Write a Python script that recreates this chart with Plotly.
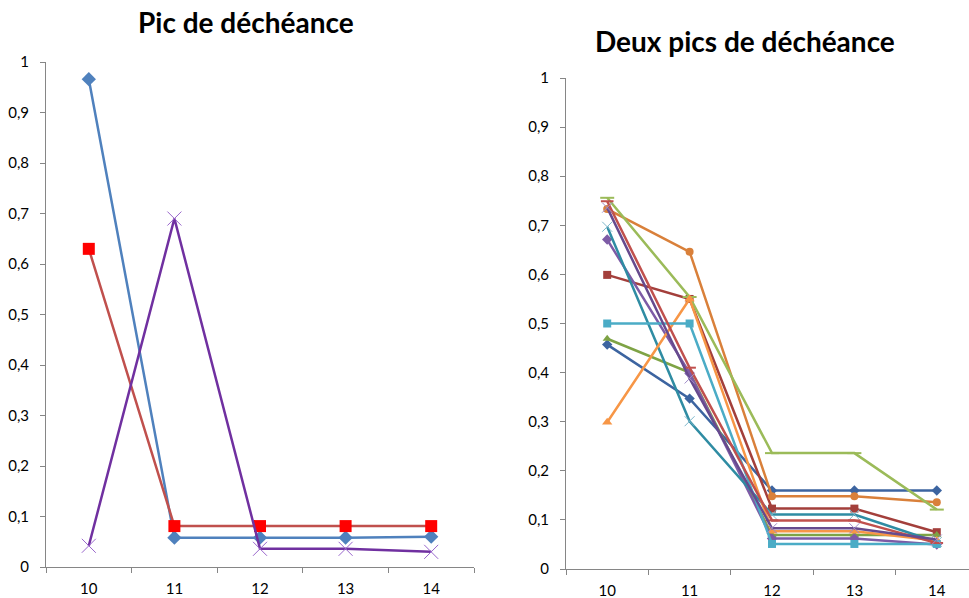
import plotly.graph_objects as go

categories = [10, 11, 12, 13, 14]

# Left chart: "Pic de déchéance"
left_blue = [0.966, 0.058, 0.058, 0.058, 0.060]
left_red = [0.630, 0.081, 0.081, 0.081, 0.081]
left_purple = [0.042, 0.690, 0.036, 0.036, 0.030]

# Right chart: "Deux pics de déchéance"
r_darkblue = [0.457, 0.347, 0.160, 0.160, 0.160]
r_darkred = [0.599, 0.550, 0.123, 0.123, 0.075]
r_green = [0.469, 0.400, 0.069, 0.069, 0.069]
r_purple = [0.671, 0.399, 0.062, 0.062, 0.050]
r_teal = [0.697, 0.301, 0.111, 0.111, 0.055]
r_orange_c = [0.733, 0.646, 0.148, 0.148, 0.136]
r_lightgreen = [0.756, 0.554, 0.236, 0.236, 0.121]
r_orange_t = [0.299, 0.550, 0.077, 0.077, 0.058]
r_cyan = [0.500, 0.500, 0.051, 0.051, 0.051]
r_red = [0.749, 0.410, 0.099, 0.099, 0.053]
r_darkpurple = [0.736, 0.388, 0.083, 0.083, 0.060]

yvals = [i / 10 for i in range(11)]
ytext = ["0"] + ["0,%d" % i for i in range(1, 10)] + ["1"]

W, H = 969, 598
fig = go.Figure()

AX = "#868686"
FONT = "Lato, Carlito, 'Liberation Sans', sans-serif"


def add(x, y, xa, ya, color, symbol, msize, mcolor=None, mline=None, lw=2.5):
    marker = dict(symbol=symbol, size=msize, color=mcolor or color)
    if mline:
        marker["line"] = dict(color=mline[0], width=mline[1])
    fig.add_trace(go.Scatter(x=x, y=y, xaxis=xa, yaxis=ya, mode="lines+markers",
                             line=dict(color=color, width=lw), marker=marker,
                             showlegend=False, hoverinfo="x+y"))


# left
add(categories, left_blue, "x", "y", "#4F81BD", "diamond", 11)
add(categories, left_red, "x", "y", "#C0504D", "square", 12, mcolor="#FF0000")
add(categories, left_purple, "x", "y", "#7030A0", "x-thin", 14, mcolor="#9966CC", mline=("#9966CC", 1))

# right
add(categories, r_darkblue, "x2", "y2", "#3C64A0", "diamond", 8)
add(categories, r_darkred, "x2", "y2", "#A33F3B", "square", 8)
add(categories, r_green, "x2", "y2", "#7EA345", "triangle-up", 8)
add(categories, r_purple, "x2", "y2", "#7D5BA6", "diamond", 8)
add(categories, r_teal, "x2", "y2", "#2F8CA3", "x-thin", 10, mline=("#7FB8CC", 1))
add(categories, r_orange_c, "x2", "y2", "#D9803A", "circle", 8)
add(categories, r_lightgreen, "x2", "y2", "#9BBB59", "line-ew", 10, mline=("#9BBB59", 2))
add(categories, r_orange_t, "x2", "y2", "#F79646", "triangle-up", 9)
add(categories, r_cyan, "x2", "y2", "#4BACC6", "square", 8)
add(categories, r_red, "x2", "y2", "#C0504D", "line-ew", 9, mline=("#C0504D", 2))
add(categories, r_darkpurple, "x2", "y2", "#664A8E", "x-thin", 10, mline=("#A08CC8", 1))


def xaxis(domain, rng, anchor):
    return dict(domain=domain, range=rng, tickvals=categories, ticktext=[str(c) for c in categories],
                ticks="", showgrid=False, zeroline=False, showline=True, linecolor=AX, linewidth=1,
                tickfont=dict(family=FONT, size=15, color="#000000"), anchor=anchor,
                automargin=False, ticklabelstandoff=8,
                minor=dict(tick0=9.5, dtick=1, ticks="outside", ticklen=5, tickcolor=AX, showgrid=False),
                fixedrange=True)


def yaxis(domain, anchor):
    return dict(domain=domain, range=[0, 1], tickvals=yvals, ticktext=ytext, ticks="outside",
                ticklen=5, tickcolor=AX, showgrid=False, zeroline=False, showline=True,
                linecolor=AX, linewidth=1, anchor=anchor, automargin=False, ticklabelstandoff=8,
                tickfont=dict(family=FONT, size=15, color="#000000"), fixedrange=True)


lx0, lx1 = 46 / W, 474 / W
ly0, ly1 = 1 - 567 / H, 1 - 62 / H
rx0, rx1 = 566 / W, 1.0
ry0, ry1 = 1 - 569 / H, 1 - 78 / H

fig.update_layout(
    width=W, height=H, margin=dict(l=0, r=0, t=0, b=0, pad=0, autoexpand=False),
    paper_bgcolor="white", plot_bgcolor="white",
    xaxis=xaxis([lx0, lx1], [9.5, 14.5], "y"),
    yaxis=yaxis([ly0, ly1], "x"),
    xaxis2=xaxis([rx0, rx1], [9.5, 14.5 - (978 - 969) / 82.5], "y2"),
    yaxis2=yaxis([ry0, ry1], "x2"),
    annotations=[
        dict(text="<b>Pic de déchéance</b>", x=246 / W, y=1 - 22 / H, xref="paper", yref="paper",
             showarrow=False, font=dict(family=FONT, size=28, color="#000000"),
             xanchor="center", yanchor="middle"),
        dict(text="<b>Deux pics de déchéance</b>", x=745 / W, y=1 - 41 / H, xref="paper", yref="paper",
             showarrow=False, font=dict(family=FONT, size=28, color="#000000"),
             xanchor="center", yanchor="middle"),
    ],
)

fig.write_html("out.html")
